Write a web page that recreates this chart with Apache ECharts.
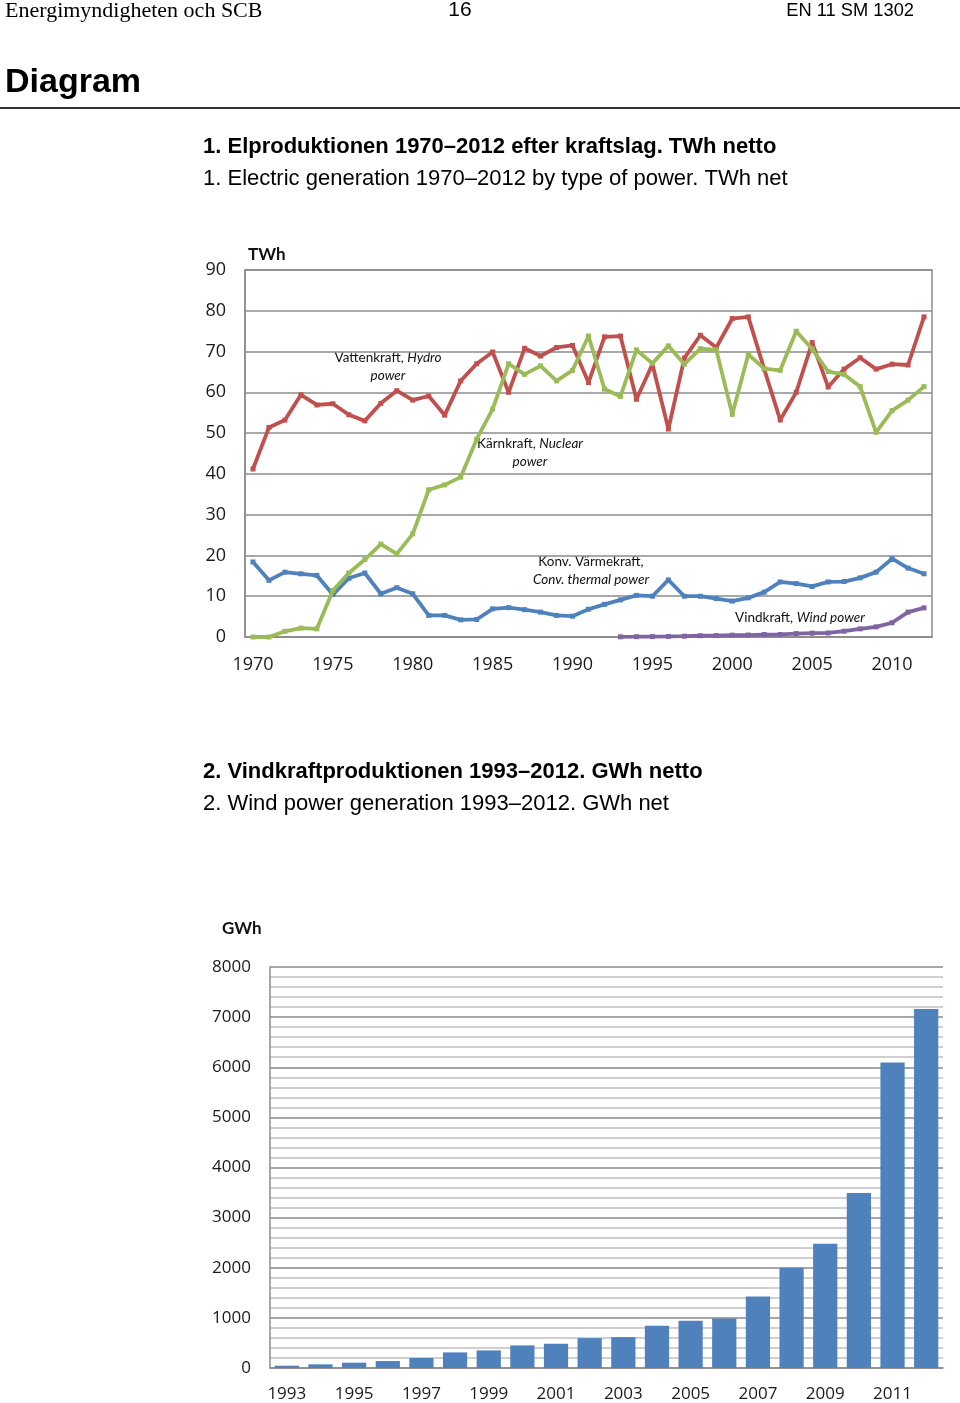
<!DOCTYPE html>
<html>
<head>
<meta charset="utf-8">
<script src="https://cdn.jsdelivr.net/npm/echarts@6/dist/echarts.min.js"></script>
<style>
html,body{margin:0;padding:0;background:#fff;}
#c{width:960px;height:1403px;}
</style>
</head>
<body>
<div id="c"></div>
<script>
// ---- Chart 1 data (TWh) ----
const years1 = ['1970','1971','1972','1973','1974','1975','1976','1977','1978','1979',
  '1980','1981','1982','1983','1984','1985','1986','1987','1988','1989',
  '1990','1991','1992','1993','1994','1995','1996','1997','1998','1999',
  '2000','2001','2002','2003','2004','2005','2006','2007','2008','2009',
  '2010','2011','2012'];
const hydro = [41.2,51.4,53.2,59.4,56.9,57.2,54.5,53.0,57.3,60.4,
  58.1,59.1,54.4,62.8,67.0,69.9,60.0,70.8,68.9,71.0,
  71.5,62.4,73.6,73.8,58.3,66.9,51.0,68.4,74.0,71.0,
  78.1,78.5,65.7,53.2,60.0,72.2,61.3,65.7,68.5,65.7,
  66.9,66.7,78.5];
const nuclear = [0,0,1.4,2.2,2.0,11.4,15.7,19.0,22.8,20.4,
  25.3,36.1,37.3,39.2,48.5,55.9,67.0,64.4,66.5,62.8,
  65.4,73.8,60.8,59.0,70.4,67.1,71.4,66.9,70.7,70.4,
  54.6,69.3,65.8,65.4,75.0,70.6,65.1,64.4,61.4,50.2,
  55.5,58.1,61.4];
const thermal = [18.4,13.9,15.9,15.5,15.1,10.4,14.4,15.7,10.6,12.1,
  10.6,5.3,5.3,4.2,4.3,6.9,7.2,6.7,6.1,5.3,
  5.1,6.8,8.0,9.1,10.2,10.0,14.0,10.0,10.0,9.4,
  8.8,9.6,11.0,13.5,13.1,12.4,13.5,13.6,14.5,15.9,
  19.2,16.9,15.5];
const wind1 = [null,null,null,null,null,null,null,null,null,null,
  null,null,null,null,null,null,null,null,null,null,
  null,null,null,0.05,0.07,0.1,0.14,0.2,0.31,0.35,
  0.45,0.48,0.6,0.62,0.84,0.94,0.99,1.42,2.0,2.48,
  3.49,6.1,7.16];
const yTicks1 = {min:0, max:90, step:10};

// ---- Chart 2 data (GWh) ----
const years2 = ['1993','1994','1995','1996','1997','1998','1999','2000','2001','2002',
  '2003','2004','2005','2006','2007','2008','2009','2010','2011','2012'];
const windGWh = [46,73,106,139,199,311,351,451,484,596,
  616,842,941,987,1424,2001,2478,3492,6097,7164];
const yTicks2 = {min:0, max:8000, step:1000};

const C = {red:'#C0504D', green:'#9BBB59', blue:'#4F81BD', purple:'#8064A2'};
const AX = '#8c8c8c';
const FONT = '"Open Sans", "DejaVu Sans", sans-serif';
const SANS = '"Liberation Sans", Arial, sans-serif';
const LBL = 'Lato, "Open Sans", sans-serif';

const chart = echarts.init(document.getElementById('c'), null, {renderer:'canvas'});

function lineSeries(name, data, color, z){
  return {
    name, type:'line', xAxisIndex:0, yAxisIndex:0, data,
    symbol:'rect', symbolSize:5, showSymbol:true,
    lineStyle:{color, width:3.8}, itemStyle:{color}, z,
    connectNulls:false, animation:false
  };
}

const smallRich = {
  i:{fontStyle:'italic', fontFamily:LBL, fontSize:13.5, fill:'#111'}
};
function label(x, y, text){
  return {type:'text', x, y, style:{text, rich:smallRich, fontFamily:LBL,
    fontSize:13.5, fill:'#111', textAlign:'center', textVerticalAlign:'middle', lineHeight:18}};
}

const option = {
  animation:false,
  grid:[
    {left:245, top:270, width:687, height:367, show:true, borderColor:AX, borderWidth:1.5, containLabel:false},
    {left:270, top:967, width:673, height:402, containLabel:false}
  ],
  xAxis:[
    {gridIndex:0, type:'category', data:years1, boundaryGap:true, position:'bottom',
      axisLine:{lineStyle:{color:AX, width:1.5}},
      axisTick:{alignWithLabel:true, interval:0, length:6, lineStyle:{color:AX, width:1.5}},
      axisLabel:{interval:4, fontSize:18, fontFamily:FONT, color:'#1a1a1a', margin:19},
      splitLine:{show:false}},
    {gridIndex:0, type:'category', data:years1, boundaryGap:true, position:'bottom',
      axisLine:{show:false},
      axisTick:{alignWithLabel:true, interval:0, inside:true, length:6, lineStyle:{color:AX, width:1.5}},
      axisLabel:{show:false}, splitLine:{show:false}},
    {gridIndex:1, type:'category', data:years2, boundaryGap:true,
      axisLine:{lineStyle:{color:AX, width:1.5}},
      axisTick:{interval:0, length:5, lineStyle:{color:AX, width:1.5}},
      axisLabel:{interval:1, fontSize:17, fontFamily:FONT, color:'#1a1a1a', margin:18},
      splitLine:{show:false}}
  ],
  yAxis:[
    {gridIndex:0, type:'value', min:yTicks1.min, max:yTicks1.max, interval:yTicks1.step,
      axisLine:{show:true, lineStyle:{color:AX, width:1.5}}, axisTick:{show:false},
      axisLabel:{fontSize:18, fontFamily:FONT, color:'#1a1a1a', margin:19},
      splitLine:{lineStyle:{color:AX, width:1.5}}},
    {gridIndex:1, type:'value', min:yTicks2.min, max:yTicks2.max, interval:yTicks2.step,
      axisLine:{show:true, lineStyle:{color:AX, width:1.5}}, axisTick:{show:false},
      axisLabel:{fontSize:17, fontFamily:FONT, color:'#1a1a1a', margin:19, formatter:(v)=>String(v)},
      splitLine:{lineStyle:{color:'#8a8a8a', width:1.5}},
      minorTick:{show:false, splitNumber:5},
      minorSplitLine:{show:true, lineStyle:{color:'#c0c0c0', width:1.5}}}
  ],
  series:[
    lineSeries('Vattenkraft', hydro, C.red, 3),
    lineSeries('Kärnkraft', nuclear, C.green, 4),
    lineSeries('Konv. Värmekraft', thermal, C.blue, 3),
    lineSeries('Vindkraft', wind1, C.purple, 5),
    {name:'Vindkraft GWh', type:'bar', xAxisIndex:2, yAxisIndex:1, data:windGWh,
      barWidth:'72%', itemStyle:{color:C.blue}, animation:false}
  ],
  graphic:[
    {type:'text', x:5, y:11, style:{text:'Energimyndigheten och SCB', fontFamily:'"Liberation Serif", "DejaVu Serif", serif', fontSize:22, fill:'#000', textVerticalAlign:'middle'}},
    {type:'text', x:460, y:10, style:{text:'16', fontFamily:SANS, fontSize:21, fill:'#000', textAlign:'center', textVerticalAlign:'middle'}},
    {type:'text', x:914, y:11, style:{text:'EN 11 SM 1302', fontFamily:SANS, fontSize:18.3, fill:'#000', textAlign:'right', textVerticalAlign:'middle'}},
    {type:'text', x:5, y:83, style:{text:'Diagram', fontFamily:SANS, fontWeight:'bold', fontSize:34, fill:'#000', textVerticalAlign:'middle'}},
    {type:'rect', shape:{x:0, y:107, width:960, height:2}, style:{fill:'#333'}},
    {type:'text', x:203, y:147, style:{text:'1. Elproduktionen 1970–2012 efter kraftslag. TWh netto', fontFamily:SANS, fontWeight:'bold', fontSize:22, fill:'#000', textVerticalAlign:'middle'}},
    {type:'text', x:203, y:179, style:{text:'1. Electric generation 1970–2012 by type of power. TWh net', fontFamily:SANS, fontSize:22, fill:'#000', textVerticalAlign:'middle'}},
    {type:'text', x:248, y:255, style:{text:'TWh', fontFamily:LBL, fontWeight:'bold', fontSize:17, fill:'#111', textVerticalAlign:'middle'}},
    label(388, 367, 'Vattenkraft, {i|Hydro}\n{i|power}'),
    label(530, 453, 'Kärnkraft, {i|Nuclear}\n{i|power}'),
    label(591, 571, 'Konv. Värmekraft,\n{i|Conv. thermal power}'),
    label(800, 618, 'Vindkraft, {i|Wind power}'),
    {type:'text', x:203, y:772, style:{text:'2. Vindkraftproduktionen 1993–2012. GWh netto', fontFamily:SANS, fontWeight:'bold', fontSize:22, fill:'#000', textVerticalAlign:'middle'}},
    {type:'text', x:203, y:804, style:{text:'2. Wind power generation 1993–2012. GWh net', fontFamily:SANS, fontSize:22, fill:'#000', textVerticalAlign:'middle'}},
    {type:'text', x:222, y:929, style:{text:'GWh', fontFamily:LBL, fontWeight:'bold', fontSize:17, fill:'#111', textVerticalAlign:'middle'}}
  ]
};
chart.setOption(option);
</script>
</body>
</html>
